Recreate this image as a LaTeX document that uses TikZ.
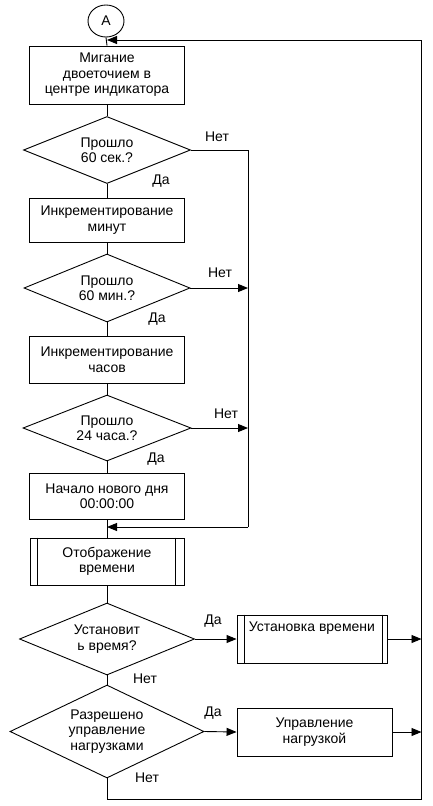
\documentclass[tikz,border=0pt]{standalone}
\usepackage{fontspec}
\setmainfont{Liberation Sans}
\usetikzlibrary{shapes.geometric,arrows.meta}
\begin{document}
\begin{tikzpicture}[x=1pt,y=-1pt,
  every node/.style={font=\fontsize{14}{15.5}\selectfont},
  box/.style={draw, line width=0.9pt, inner sep=0pt, align=center},
  dec/.style={draw, diamond, aspect=2.5, inner sep=0pt, align=center, line width=0.9pt},
  lbl/.style={inner sep=0pt},
  ln/.style={line width=0.9pt},
  arr/.style={line width=0.9pt, -{Triangle[length=10pt,width=8pt]}}
]
\useasboundingbox (0,0) rectangle (432,806);
% nodes
\node[draw, ellipse, line width=0.9pt, minimum width=36pt, minimum height=32pt, inner sep=0pt] (A) at (106,21) {А};
\node[box, minimum width=155pt, minimum height=58pt] (b1) at (107,75) {Мигание\\двоеточием в\\центре индикатора};
\node[dec, minimum width=167pt, minimum height=67pt] (d1) at (107,150) {Прошло\\60 сек.?};
\node[box, minimum width=155pt, minimum height=44pt] (b2) at (107,220) {Инкрементирование\\минут};
\node[dec, minimum width=166pt, minimum height=68pt] (d2) at (107,288) {Прошло\\60 мин.?};
\node[box, minimum width=155pt, minimum height=47pt] (b3) at (107,359.5) {Инкрементирование\\часов};
\node[dec, minimum width=168pt, minimum height=66pt] (d3) at (107,428) {Прошло\\24 часа.?};
\node[box, minimum width=155pt, minimum height=46pt] (b4) at (107,496) {Начало нового дня\\00:00:00};
\node[box, minimum width=154pt, minimum height=47pt] (b5) at (107,561.5) {Отображение\\времени};
\draw[ln] ([xshift=8pt]b5.north west) -- ([xshift=8pt]b5.south west);
\draw[ln] ([xshift=-9pt]b5.north east) -- ([xshift=-9pt]b5.south east);
\node[dec, minimum width=175pt, minimum height=72pt] (d4) at (107,639) {Установит\\ь время?};
\node[box, minimum width=150pt, minimum height=48pt] (b6) at (312,639) {};
\draw[ln] ([xshift=8pt]b6.north west) -- ([xshift=8pt]b6.south west);
\draw[ln] ([xshift=-5pt]b6.north east) -- ([xshift=-5pt]b6.south east);
\node[lbl] (t6) at (312,628) {Установка времени};
\node[dec, minimum width=194pt, minimum height=93pt] (d5) at (107,731.5) {Разрешено\\управление\\нагрузками};
\node[box, minimum width=155pt, minimum height=48pt] (b7) at (314.5,732) {Управление\\нагрузкой};
% junctions
\coordinate (j1) at (107,40);
\coordinate (j2) at (107,527);
\coordinate (r1) at (248,150);
\coordinate (r2) at (248,288);
\coordinate (r3) at (248,428);
\coordinate (r4) at (248,527);
\coordinate (e1) at (421.5,639);
\coordinate (e2) at (421.5,732);
\coordinate (q1) at (107,799);
\coordinate (q2) at (421.5,799);
\coordinate (q3) at (421.5,40);
% connectors
\draw[ln] (A.south) -- (b1.north);
\draw[ln] (b1.south) -- (d1.north);
\draw[ln] (d1.south) -- (b2.north);
\draw[ln] (b2.south) -- (d2.north);
\draw[ln] (d2.south) -- (b3.north);
\draw[ln] (b3.south) -- (d3.north);
\draw[ln] (d3.south) -- (b4.north);
\draw[ln] (b4.south) -- (b5.north);
\draw[ln] (b5.south) -- (d4.north);
\draw[ln] (d4.south) -- (d5.north);
\draw[ln] (d1.east) -- (r1) -- (r4);
\draw[arr] (r4) -- (j2);
\draw[arr] (d2.east) -- (r2);
\draw[arr] (d3.east) -- (r3);
\draw[arr] (d4.east) -- (b6.west);
\draw[arr] (b6.east) -- (e1);
\draw[arr] (d5.east) -- (b7.west);
\draw[arr] (b7.east) -- (e2);
\draw[ln] (d5.south) -- (q1) -- (q2) -- (q3);
\draw[arr] (q3) -- (j1);
% labels
\node[lbl] (n1) at (217,137) {Нет};
\node[lbl] (y1) at (161,181) {Да};
\node[lbl] (n2) at (220,273) {Нет};
\node[lbl] (y2) at (157,319) {Да};
\node[lbl] (n3) at (226,414) {Нет};
\node[lbl] (y3) at (156,459) {Да};
\node[lbl] (y4) at (213,621) {Да};
\node[lbl] (n4) at (145,679) {Нет};
\node[lbl] (y5) at (213,713) {Да};
\node[lbl] (n5) at (147,778) {Нет};
\end{tikzpicture}
\end{document}
